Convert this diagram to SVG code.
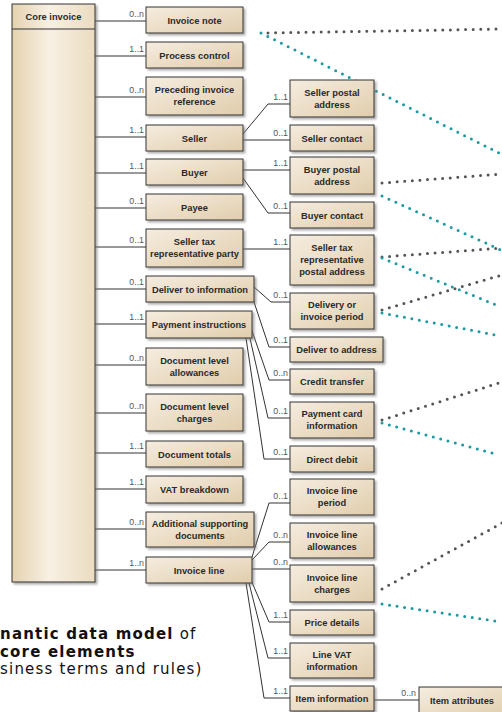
<svg xmlns="http://www.w3.org/2000/svg" width="502" height="712" viewBox="0 0 502 712">
<style>
.b{fill:url(#gb);stroke:#333;stroke-width:1;filter:url(#sh)}
.core{fill:url(#gc);stroke:#333;stroke-width:1;filter:url(#sh)}
.t{font-family:"Liberation Sans",Arial,sans-serif;font-weight:bold;font-size:9.3px;fill:#2a2a2a;text-anchor:middle}
.m{font-family:"Liberation Sans",Arial,sans-serif;font-size:8.8px;fill:#555;text-anchor:end}
.c{fill:none;stroke:#333;stroke-width:1}
.dg{fill:none;stroke:#555;stroke-width:3;stroke-linecap:round;stroke-dasharray:0 7.6}
.dt{fill:none;stroke:#1b9aa0;stroke-width:3;stroke-linecap:round;stroke-dasharray:0 7.6}
.f{font-family:"DejaVu Sans",Verdana,sans-serif;font-size:15px;letter-spacing:1.2px;fill:#111}
</style>
<defs>
<linearGradient id="gb" x1="0" y1="0" x2="1" y2="1">
<stop offset="0" stop-color="#f6ede0"/><stop offset="1" stop-color="#e0cdac"/>
</linearGradient>
<linearGradient id="gc" x1="0" y1="0" x2="1" y2="0">
<stop offset="0" stop-color="#e5d2b0"/><stop offset="0.45" stop-color="#f8f0e3"/><stop offset="1" stop-color="#ebdcc1"/>
</linearGradient>
<filter id="sh" x="-10%" y="-10%" width="130%" height="130%">
<feDropShadow dx="2" dy="2" stdDeviation="1" flood-color="#777" flood-opacity="0.6"/>
</filter>
</defs>

<g id="connectors">
<path class="c" d="M95 21H146M95 56H146M95 97H146M95 137H146M95 173H146M95 208H146M95 247H146M95 289H146M95 324H146M95 365H146M95 413H146M95 453H146M95 489H146M95 529H146M95 570H146"/>
<path class="c" d="M243 134L268 104H290"/>
<path class="c" d="M243 140H290"/>
<path class="c" d="M243 170H290"/>
<path class="c" d="M243 178L268 213H290"/>
<path class="c" d="M243 249H290"/>
<path class="c" d="M254 287L271 302H290"/>
<path class="c" d="M252 296L269 347H290"/>
<path class="c" d="M251 328L269 380H290"/>
<path class="c" d="M249 334L268 418H290"/>
<path class="c" d="M246 338L264 459H290"/>
<path class="c" d="M252 557L269 503H290"/>
<path class="c" d="M252 560L269 542H290"/>
<path class="c" d="M252 569H290"/>
<path class="c" d="M251 580L269 622H290"/>
<path class="c" d="M249 583L268 658H290"/>
<path class="c" d="M246 583L264 698H290"/>
<path class="c" d="M374 700H419"/>
<g>
<text class="m" x="144" y="17">0..n</text>
<text class="m" x="144" y="52">1..1</text>
<text class="m" x="144" y="93">0..n</text>
<text class="m" x="144" y="133">1..1</text>
<text class="m" x="144" y="169">1..1</text>
<text class="m" x="144" y="204">0..1</text>
<text class="m" x="144" y="243">0..1</text>
<text class="m" x="144" y="285">0..1</text>
<text class="m" x="144" y="320">1..1</text>
<text class="m" x="144" y="361">0..n</text>
<text class="m" x="144" y="409">0..n</text>
<text class="m" x="144" y="449">1..1</text>
<text class="m" x="144" y="485">1..1</text>
<text class="m" x="144" y="525">0..n</text>
<text class="m" x="144" y="566">1..n</text>
<text class="m" x="288" y="100">1..1</text>
<text class="m" x="288" y="136">0..1</text>
<text class="m" x="288" y="166">1..1</text>
<text class="m" x="288" y="209">0..1</text>
<text class="m" x="288" y="245">1..1</text>
<text class="m" x="288" y="298">0..1</text>
<text class="m" x="288" y="343">0..1</text>
<text class="m" x="288" y="376">0..n</text>
<text class="m" x="288" y="414">0..1</text>
<text class="m" x="288" y="455">0..1</text>
<text class="m" x="288" y="499">0..1</text>
<text class="m" x="288" y="538">0..n</text>
<text class="m" x="288" y="565">0..n</text>
<text class="m" x="288" y="618">1..1</text>
<text class="m" x="288" y="654">1..1</text>
<text class="m" x="288" y="694">1..1</text>
<text class="m" x="416" y="696">0..n</text>
</g>
<path class="dg" d="M268 33L502 29"/>
<path class="dt" d="M261 33L499 153"/>
<path class="dg" d="M382 183L502 174"/>
<path class="dt" d="M382 196L501 250"/>
<path class="dg" d="M382 257L502 248"/>
<path class="dt" d="M382 258L501 307"/>
<path class="dg" d="M382 310L502 275"/>
<path class="dt" d="M382 313L501 336"/>
<path class="dg" d="M382 420L502 382"/>
<path class="dt" d="M382 423L499 455"/>
<path class="dg" d="M382 589L502 523"/>
<path class="dt" d="M382 604L502 622"/>
</g>

<g id="core-invoice"><rect class="core" x="12" y="4" width="83" height="578"/><line class="c" x1="12" y1="29" x2="95" y2="29"/><text class="t" x="53.5" y="20">Core invoice</text></g>

<g id="invoice-note"><rect class="b" x="146" y="7" width="97" height="26"/><text class="t" x="194.5" y="23.5">Invoice note</text></g>
<g id="process-control"><rect class="b" x="146" y="42" width="97" height="26"/><text class="t" x="194.5" y="58.5">Process control</text></g>
<g id="preceding-invoice-reference"><rect class="b" x="146" y="77" width="97" height="38"/><text class="t" x="194.5" y="93">Preceding invoice</text><text class="t" x="194.5" y="105">reference</text></g>
<g id="seller"><rect class="b" x="146" y="125" width="97" height="26"/><text class="t" x="194.5" y="141.5">Seller</text></g>
<g id="buyer"><rect class="b" x="146" y="159" width="97" height="26"/><text class="t" x="194.5" y="175.5">Buyer</text></g>
<g id="payee"><rect class="b" x="146" y="194" width="97" height="26"/><text class="t" x="194.5" y="210.5">Payee</text></g>
<g id="seller-tax-representative-party"><rect class="b" x="146" y="229" width="97" height="38"/><text class="t" x="194.5" y="245">Seller tax</text><text class="t" x="194.5" y="257">representative party</text></g>
<g id="deliver-to-information"><rect class="b" x="146" y="276" width="108" height="26"/><text class="t" x="200" y="292.5">Deliver to information</text></g>
<g id="payment-instructions"><rect class="b" x="146" y="311" width="106" height="27"/><text class="t" x="199" y="327.5">Payment instructions</text></g>
<g id="document-level-allowances"><rect class="b" x="146" y="348" width="97" height="37"/><text class="t" x="194.5" y="363.5">Document level</text><text class="t" x="194.5" y="375.5">allowances</text></g>
<g id="document-level-charges"><rect class="b" x="146" y="394" width="97" height="37"/><text class="t" x="194.5" y="409.5">Document level</text><text class="t" x="194.5" y="421.5">charges</text></g>
<g id="document-totals"><rect class="b" x="146" y="441" width="97" height="26"/><text class="t" x="194.5" y="457.5">Document totals</text></g>
<g id="vat-breakdown"><rect class="b" x="146" y="476" width="97" height="27"/><text class="t" x="194.5" y="492.5">VAT breakdown</text></g>
<g id="additional-supporting-documents"><rect class="b" x="146" y="512" width="108" height="35"/><text class="t" x="200" y="526.5">Additional supporting</text><text class="t" x="200" y="538.5">documents</text></g>
<g id="invoice-line"><rect class="b" x="146" y="557" width="106" height="26"/><text class="t" x="199" y="573.5">Invoice line</text></g>

<g id="seller-postal-address"><rect class="b" x="290" y="80" width="84" height="37"/><text class="t" x="332" y="95.5">Seller postal</text><text class="t" x="332" y="107.5">address</text></g>
<g id="seller-contact"><rect class="b" x="290" y="125" width="84" height="26"/><text class="t" x="332" y="141.5">Seller contact</text></g>
<g id="buyer-postal-address"><rect class="b" x="290" y="157" width="84" height="37"/><text class="t" x="332" y="172.5">Buyer postal</text><text class="t" x="332" y="184.5">address</text></g>
<g id="buyer-contact"><rect class="b" x="290" y="202" width="84" height="26"/><text class="t" x="332" y="218.5">Buyer contact</text></g>
<g id="seller-tax-representative-postal-address"><rect class="b" x="290" y="235" width="84" height="50"/><text class="t" x="332" y="251">Seller tax</text><text class="t" x="332" y="263">representative</text><text class="t" x="332" y="275">postal address</text></g>
<g id="delivery-or-invoice-period"><rect class="b" x="290" y="293" width="84" height="36"/><text class="t" x="332" y="308">Delivery or</text><text class="t" x="332" y="320">invoice period</text></g>
<g id="deliver-to-address"><rect class="b" x="290" y="337" width="93" height="25"/><text class="t" x="336.5" y="352.5">Deliver to address</text></g>
<g id="credit-transfer"><rect class="b" x="290" y="369" width="84" height="25"/><text class="t" x="332" y="384.5">Credit transfer</text></g>
<g id="payment-card-information"><rect class="b" x="290" y="402" width="84" height="36"/><text class="t" x="332" y="417">Payment card</text><text class="t" x="332" y="429">information</text></g>
<g id="direct-debit"><rect class="b" x="290" y="446" width="84" height="26"/><text class="t" x="332" y="462.5">Direct debit</text></g>
<g id="invoice-line-period"><rect class="b" x="290" y="479" width="84" height="36"/><text class="t" x="332" y="494">Invoice line</text><text class="t" x="332" y="506">period</text></g>
<g id="invoice-line-allowances"><rect class="b" x="290" y="523" width="84" height="35"/><text class="t" x="332" y="537.5">Invoice line</text><text class="t" x="332" y="549.5">allowances</text></g>
<g id="invoice-line-charges"><rect class="b" x="290" y="565" width="84" height="37"/><text class="t" x="332" y="580.5">Invoice line</text><text class="t" x="332" y="592.5">charges</text></g>
<g id="price-details"><rect class="b" x="290" y="610" width="84" height="25"/><text class="t" x="332" y="625.5">Price details</text></g>
<g id="line-vat-information"><rect class="b" x="290" y="643" width="84" height="35"/><text class="t" x="332" y="657.5">Line VAT</text><text class="t" x="332" y="669.5">information</text></g>
<g id="item-information"><rect class="b" x="290" y="686" width="84" height="25"/><text class="t" x="332" y="701.5">Item information</text></g>
<g id="item-attributes"><rect class="b" x="419" y="687" width="92" height="30"/><text class="t" x="462" y="703.5">Item attributes</text></g>

<g id="caption">
<text class="f" x="0" y="639"><tspan font-weight="bold">nantic data model</tspan> of</text>
<text class="f" x="0" y="656.5" font-weight="bold">core elements</text>
<text class="f" x="0" y="674">siness terms and rules)</text>
</g>
</svg>
